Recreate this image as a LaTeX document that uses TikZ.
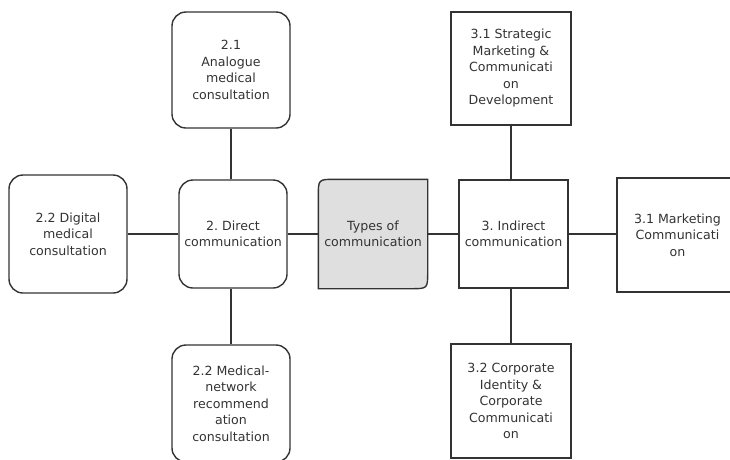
\documentclass[tikz,border=0pt]{standalone}
\usepackage{fontspec}
\setmainfont{DejaVu Sans}
\usetikzlibrary{positioning, backgrounds}
\definecolor{ink}{HTML}{333333}
\definecolor{shade}{HTML}{DFDFDF}
\frenchspacing

\begin{document}
\begin{tikzpicture}[x=1pt, y=-1pt,
    roundbox/.style={draw=ink, line width=1.4pt, rounded corners=14pt, align=center, inner sep=0pt,
        text=ink, font=\fontsize{12.6}{16.5}\selectfont},
    squarebox/.style={roundbox, sharp corners},
    link/.style={draw=ink, line width=1.4pt}]
    \useasboundingbox (0,0) rectangle (730,459);

    % Centre
    \node[roundbox, draw=none, minimum width=108pt, minimum height=108pt] (types) at (373,234) {Types of\\communication};
    \begin{scope}[on background layer]
        \draw[ink, line width=1.4pt, fill=shade] (types.south west) -- ([yshift=-17pt]types.north west)
            .. controls (types.north west) .. ([xshift=17pt]types.north west) -- (types.north east)
            -- ([yshift=17pt]types.south east)
            .. controls (types.south east) .. ([xshift=-17pt]types.south east) -- cycle;
    \end{scope}

    % Direct communication
    \node[roundbox, minimum width=108pt, minimum height=108pt] (direct) at (233,234) {2. Direct\\communication};
    \node[roundbox, minimum width=118pt, minimum height=118pt] (digital) at (68,234) {2.2 Digital\\medical\\consultation};
    \node[roundbox, minimum width=118pt, minimum height=116pt] (analogue) at (231,70) {2.1\\Analogue\\medical\\consultation};
    \node[roundbox, minimum width=118pt, minimum height=117pt] (medical) at (231,403.5) {2.2 Medical-\\network\\recommend\\ation\\consultation};

    % Indirect communication
    \node[squarebox, minimum width=109pt, minimum height=108pt] (indirect) at (513.5,234) {3. Indirect\\communication};
    \node[squarebox, minimum width=120pt, minimum height=113pt] (strategic) at (511,68.5) {3.1 Strategic\\Marketing \&\\Communicati\\on\\Development};
    \node[squarebox, minimum width=120pt, minimum height=114pt] (corporate) at (511,401) {3.2 Corporate\\Identity \&\\Corporate\\Communicati\\on};
    \node[squarebox, minimum width=121pt, minimum height=114pt] (marketing) at (677.5,235) {3.1 Marketing\\Communicati\\on};

    % Links
    \draw[link] (digital.east) -- (direct.west);
    \draw[link] (direct.east) -- (types.west);
    \draw[link] (types.east) -- (indirect.west);
    \draw[link] (indirect.east) -- (marketing.west |- indirect.east);
    \draw[link] (analogue.south) -- (analogue.south |- direct.north);
    \draw[link] (medical.north) -- (medical.north |- direct.south);
    \draw[link] (strategic.south) -- (strategic.south |- indirect.north);
    \draw[link] (corporate.north) -- (corporate.north |- indirect.south);
\end{tikzpicture}
\end{document}
